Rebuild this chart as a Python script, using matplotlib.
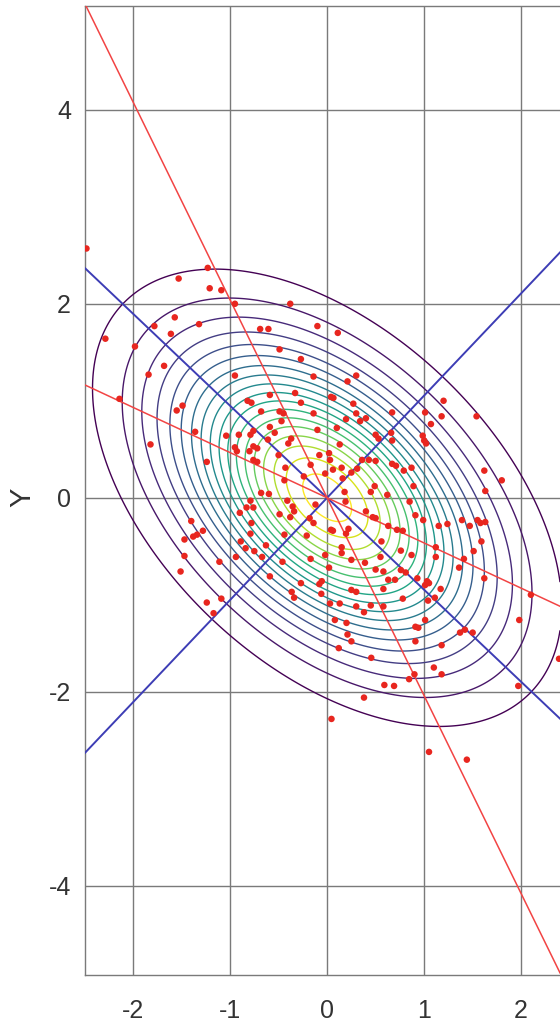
import numpy as np
import matplotlib
matplotlib.use("Agg")
import matplotlib.pyplot as plt

plt.rcParams["font.family"] = ["Liberation Sans", "DejaVu Sans"]
plt.rcParams["axes.unicode_minus"] = False

var_x = 1.0
var_y = 0.951
cov_xy = -0.466
contour_levels = np.arange(0.01, 0.185, 0.01)

x_ticks = [-2, -1, 0, 1, 2]
y_ticks = [-4, -2, 0, 2, 4]

# sample points
pts_x = [
    -2.48, -1.23, -1.53, -1.21, -1.09, -0.95, -0.38, -1.57, -1.78, -1.32, -1.61, -2.285, -1.98,
    -0.69, -0.605, -0.10, -0.49, -0.27, -1.68, -1.84, -0.95, -0.14, -2.14, -0.59, -0.33, -0.82,
    -0.78, -0.27, -1.49, -1.55, -0.68, -0.49, -0.45, -0.14, -0.47, -1.36, -0.76, -0.59, -0.54,
    -0.10, -1.04, -0.91, -0.79, -0.61, -0.37, -0.40, -1.82, -0.95, -0.93, -0.80, -0.76, -0.72,
    -0.50, -0.08, -1.24, -0.76, -0.72, -0.43, -0.17, -0.24, -0.44, -0.02, -0.68, -0.60,
    0.11, 0.30, 0.21, 0.04, 0.065, 0.27, 0.30, 0.34, 0.40, 0.195, 0.67, 1.01, 1.20, 1.18, 1.07,
    1.54, 0.10, 0.50, 0.53, 0.66, 0.67, 0.985, 1.02, 1.00, 0.13, 0.02, 0.03, 0.36, 0.43, 0.50,
    0.67, 0.71, 0.79, 0.87, 0.06, 0.15, 0.31, 0.25, 0.16, 0.49, 0.89, 0.45, 0.18, 0.62, 1.62,
    1.80, 1.63,
    -1.40, -1.28, -1.38, -1.34, -1.47, -1.47, -1.51, -1.11, -0.94, -1.24, -1.09, -1.17, -0.90,
    -0.83, -0.76, -0.79, -0.78, -0.79, -0.89, -0.84, -0.75, -0.67, -0.63, -0.49, -0.44, -0.46,
    -0.59, -0.41, -0.355, -0.34, -0.38, -0.21, -0.18, -0.14, -0.12, -0.17, -0.27, -0.365, -0.34,
    -0.08, -0.055, -0.06, -0.02,
    0.19, 0.40, 0.47, 0.50, 0.63, 0.04, 0.06, 0.22, 0.195, 0.85, 0.91, 0.99, 0.72, 0.78, 1.15,
    1.24, 1.39, 1.47, 1.55, 1.58, 1.63, 1.59, 1.51, 1.41, 1.36, 1.62, 1.12, 1.12, 2.10, 1.98,
    1.97, 2.39, 0.56, 0.15, 0.15, 0.25, 0.39, 0.55, 0.76, 0.87, 0.02, 0.50, 0.58, 0.76, 0.81,
    0.63, 0.70, 0.93, 1.03, 1.05, 1.01, 1.17, 0.25, 0.30, 0.58, 0.78, 1.04, 1.11, 0.03, 0.13,
    0.30, 0.45, 0.38, 0.58, 0.08, 0.20, 1.01, 0.91, 0.94, 1.37, 1.42, 1.50, 0.21, 0.25, 0.91,
    1.18, 0.12, 0.455, 1.10, 1.18, 0.90, 0.845, 0.59, 0.69, 0.38, 0.045, 1.05, 1.44,
]
pts_y = [
    2.57, 2.37, 2.26, 2.16, 2.14, 2.00, 2.00, 1.86, 1.77, 1.79, 1.69, 1.64, 1.56,
    1.74, 1.74, 1.77, 1.53, 1.43, 1.36, 1.27, 1.26, 1.25, 1.02, 1.06, 1.08, 1.00,
    0.98, 0.98, 0.95, 0.90, 0.89, 0.89, 0.87, 0.87, 0.79, 0.68, 0.69, 0.73, 0.67,
    0.70, 0.64, 0.65, 0.65, 0.60, 0.61, 0.56, 0.55, 0.52, 0.48, 0.48, 0.53, 0.51,
    0.44, 0.44, 0.37, 0.39, 0.37, 0.31, 0.34, 0.22, 0.18, 0.25, 0.05, 0.04,
    1.70, 1.26, 1.20, 1.04, 1.03, 0.97, 0.87, 0.79, 0.82, 0.81, 0.88, 0.88, 1.00, 0.84, 0.76,
    0.84, 0.72, 0.65, 0.61, 0.67, 0.59, 0.64, 0.56, 0.59, 0.55, 0.46, 0.39, 0.39, 0.39, 0.38,
    0.35, 0.33, 0.28, 0.31, 0.29, 0.31, 0.30, 0.26, 0.20, 0.12, 0.12, 0.06, 0.06, 0.03, 0.28,
    0.18, 0.07,
    -0.24, -0.34, -0.40, -0.38, -0.43, -0.60, -0.76, -0.66, -0.61, -1.08, -1.04, -1.19, -0.155,
    -0.10, -0.10, -0.03, -0.26, -0.37, -0.45, -0.52, -0.55, -0.61, -0.49, -0.17, -0.38, -0.66,
    -0.81, -0.03, -0.09, -0.14, -0.20, -0.39, -0.21, -0.26, -0.07, -0.63, -0.88, -0.97, -1.03,
    -0.89, -0.86, -0.99, -0.59,
    -0.04, -0.14, -0.20, -0.21, -0.29, -0.33, -0.34, -0.32, -0.37, -0.04, -0.18, -0.23, -0.33, -0.34, -0.29,
    -0.27, -0.23, -0.29, -0.23, -0.26, -0.25, -0.45, -0.55, -0.63, -0.72, -0.83, -0.51, -0.61, -1.00, -1.26,
    -1.94, -1.66, -0.45, -0.51, -0.57, -0.64, -0.67, -0.61, -0.545, -0.59, -0.72, -0.74, -0.76, -0.745, -0.77,
    -0.845, -0.845, -0.83, -0.86, -0.88, -0.90, -0.94, -0.95, -0.97, -0.94, -1.04, -1.06, -1.03, -1.09, -1.09,
    -1.12, -1.11, -1.18, -1.12, -1.26, -1.29, -1.26, -1.33, -1.34, -1.39, -1.36, -1.39, -1.41, -1.48, -1.48,
    -1.52, -1.55, -1.65, -1.75, -1.82, -1.82, -1.87, -1.93, -1.94, -2.06, -2.28, -2.62, -2.70,
]

xlim = (-2.495, 2.40)
ylim = (-4.92, 5.07)

fig = plt.figure(figsize=(5.6, 10.22), dpi=100)
ax = fig.add_axes([85 / 560, 47 / 1022, 475 / 560, 969 / 1022])

# gaussian density on a grid
cov = np.array([[var_x, cov_xy], [cov_xy, var_y]])
inv = np.linalg.inv(cov)
gx, gy = np.meshgrid(np.linspace(xlim[0], xlim[1], 500), np.linspace(ylim[0], ylim[1], 1000))
q = inv[0, 0] * gx**2 + 2 * inv[0, 1] * gx * gy + inv[1, 1] * gy**2
pdf = np.exp(-0.5 * q) / (2 * np.pi * np.sqrt(np.linalg.det(cov)))
ax.contour(gx, gy, pdf, levels=contour_levels, cmap="viridis", linewidths=1.0, zorder=2)

# principal axes (blue) and the two regression lines (red)
evals, evecs = np.linalg.eigh(cov)
for v in evecs.T:
    ax.axline((0, 0), slope=v[1] / v[0], color="#3d3db5", lw=1.4, zorder=3)
for s in [cov_xy / var_x, var_y / cov_xy]:
    ax.axline((0, 0), slope=s, color="#f24444", lw=1.1, zorder=4)

ax.scatter(pts_x, pts_y, s=22, color="#e8261f", edgecolors="none", zorder=5)

ax.set_xlim(*xlim)
ax.set_ylim(*ylim)
ax.set_xticks(x_ticks)
ax.set_yticks(y_ticks)
ax.grid(True, color="#7a7a7a", lw=1.0)
ax.set_axisbelow(True)
ax.tick_params(length=0, labelsize=18, labelcolor="#333333")
ax.tick_params(axis="x", pad=17)
ax.tick_params(axis="y", pad=10)
for side in ["left", "bottom", "top"]:
    ax.spines[side].set_color("#7a7a7a")
    ax.spines[side].set_linewidth(1.0)
ax.spines["right"].set_visible(False)

fig.text(22 / 560, 1 - 497 / 1022, "Y", rotation=90, ha="center", va="center",
         fontsize=21, color="#333333")

fig.savefig("out.png", dpi=100)
